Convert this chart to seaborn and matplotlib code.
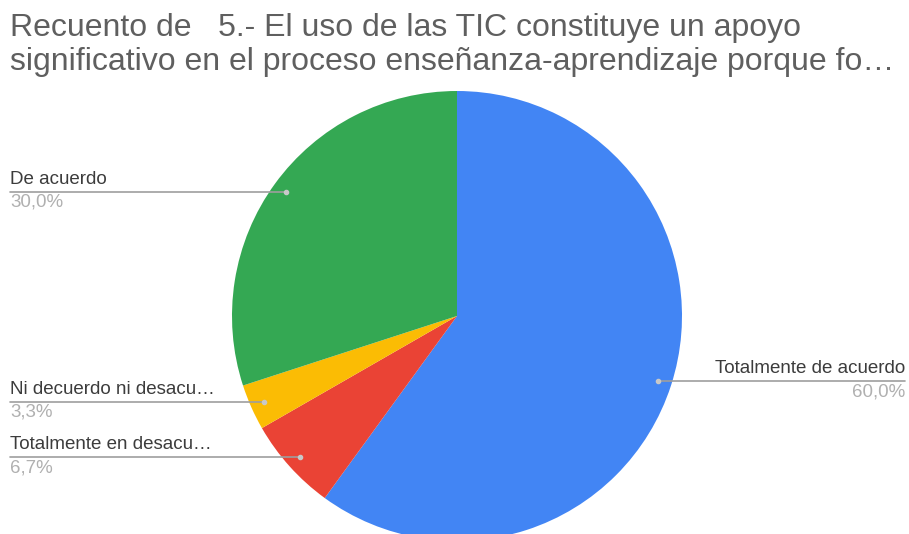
import numpy as np
import matplotlib.pyplot as plt
import seaborn as sns

# Data
categories = ['Totalmente de acuerdo', 'Totalmente en desacu…', 'Ni decuerdo ni desacu…', 'De acuerdo']
values = [60.0, 6.7, 3.3, 30.0]
pct_labels = ['60,0%', '6,7%', '3,3%', '30,0%']
colors = ['#4285f4', '#ea4335', '#fbbc04', '#34a853']

title_lines = ['Recuento de   5.- El uso de las TIC constituye un apoyo',
               'significativo en el proceso enseñanza-aprendizaje porque fo…']

sns.set_style('white')
plt.rcParams['font.family'] = ['Liberation Sans', 'DejaVu Sans']

W, H = 909, 534
fig = plt.figure(figsize=(W / 100, H / 100), dpi=100)
ax = fig.add_axes([0, 0, 1, 1])

cx, cy, r = 457, H - 316, 225
wedges, _ = ax.pie(values, colors=colors, startangle=90, counterclock=False,
                   center=(cx, cy), radius=r, wedgeprops=dict(linewidth=0))
ax.set_xlim(0, W)
ax.set_ylim(0, H)
ax.set_aspect('equal')
ax.axis('off')

# Leader lines and labels
for w, cat, pct in zip(wedges, categories, pct_labels):
    ang = np.deg2rad((w.theta1 + w.theta2) / 2)
    px = cx + 0.94 * r * np.cos(ang)
    py = cy + 0.94 * r * np.sin(ang)
    if px > cx:
        x_end, ha = 905, 'right'
    else:
        x_end, ha = 10, 'left'
    ax.plot([px, x_end], [py, py], color='#9e9e9e', lw=1.2)
    ax.plot(px, py, 'o', color='#c8c8c8', ms=3)
    ax.text(x_end, py + 4, cat, ha=ha, va='bottom', fontsize=13.5, color='#3c3c3c')
    ax.text(x_end, py - 2, pct, ha=ha, va='top', fontsize=13.5, color='#b0b0b0')

# Title, two lines
for y, line in zip([H - 36, H - 70], title_lines):
    ax.text(10, y, line, ha='left', va='baseline', fontsize=23, color='#5f5f5f')

fig.savefig('out.png', dpi=100)
plt.close(fig)
